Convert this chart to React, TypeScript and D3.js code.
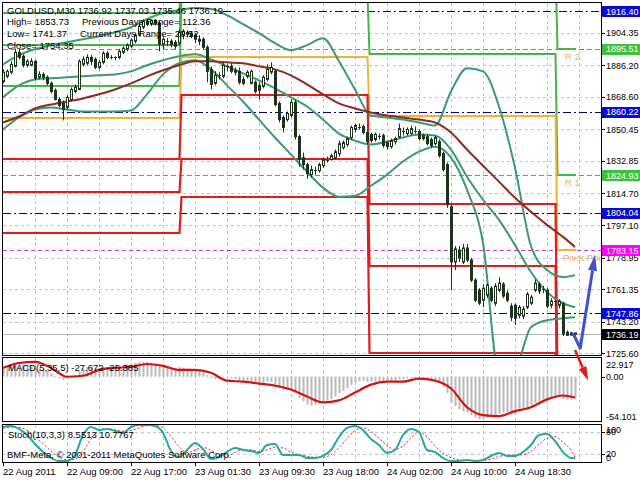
import React from 'react';
import * as d3 from 'd3';

const FONT = '"Liberation Sans", Arial, sans-serif';

// GOLDUSD M30 bars from 22 Aug 2011 00:00 (index = bar number)
const opens = [
  1877.2, 1880.0, 1882.3, 1885.6, 1893.4, 1891.2, 1886.2, 1886.2, 1888.4, 1879.5,
  1881.1, 1879.5, 1876.1, 1872.2, 1867.1, 1864.9, 1862.7, 1867.1, 1871.6, 1872.7,
  1886.7, 1887.3, 1890.6, 1889.5, 1885.0, 1887.8, 1892.9, 1890.6, 1890.1, 1890.6,
  1893.4, 1895.1, 1896.8, 1899.6, 1903.0, 1907.4, 1910.8, 1909.1, 1911.3, 1909.7,
  1897.9, 1899.6, 1899.6, 1899.0, 1898.5, 1903.0, 1904.6, 1904.1, 1903.0, 1900.7,
  1900.7, 1896.2, 1883.9, 1876.1, 1880.6, 1880.0, 1885.6, 1885.6, 1883.4, 1882.8,
  1878.3, 1880.0, 1876.1, 1876.7, 1875.0, 1874.4, 1878.3, 1882.3, 1882.8, 1864.9,
  1857.1, 1855.9, 1858.2, 1865.5, 1846.4, 1834.7, 1830.8, 1825.2, 1828.0, 1827.4,
  1830.2, 1833.6, 1833.6, 1834.7, 1836.9, 1840.3, 1842.0, 1845.9, 1850.4, 1852.0,
  1852.0, 1848.7, 1847.6, 1844.8, 1847.0, 1847.0, 1843.1, 1840.8, 1843.6, 1846.4,
  1849.8, 1848.1, 1848.1, 1849.8, 1849.2, 1847.0, 1846.4, 1844.8, 1842.5, 1843.6,
  1836.9, 1830.8, 1807.3, 1776.5, 1783.2, 1776.5, 1784.3, 1777.6, 1766.4, 1760.8,
  1755.2, 1758.0, 1761.9, 1753.5, 1760.8, 1764.2, 1759.1, 1751.9, 1752.4, 1746.8,
  1746.3, 1751.3, 1753.5, 1760.8, 1764.2, 1761.4, 1760.8, 1752.4, 1754.7, 1752.4,
  1753.5, 1737.3, 1735.8, 1736.92,
];
const highs = [
  1883.9, 1883.9, 1888.4, 1895.1, 1895.1, 1892.3, 1889.5, 1890.1, 1889.0, 1882.8,
  1882.3, 1880.6, 1877.2, 1873.3, 1868.3, 1866.6, 1869.4, 1873.9, 1875.5, 1889.5,
  1891.2, 1892.3, 1891.8, 1890.6, 1889.0, 1894.0, 1894.0, 1891.8, 1891.2, 1895.1,
  1896.8, 1898.5, 1901.3, 1904.1, 1909.7, 1911.9, 1911.9, 1911.5, 1911.93, 1910.8,
  1901.8, 1901.3, 1900.7, 1900.2, 1906.3, 1906.3, 1905.7, 1905.2, 1904.1, 1903.0,
  1901.8, 1897.4, 1885.6, 1882.8, 1882.3, 1887.8, 1886.7, 1887.3, 1885.0, 1885.0,
  1880.0, 1883.4, 1883.9, 1877.8, 1876.7, 1880.6, 1886.7, 1887.8, 1883.9, 1866.0,
  1858.2, 1860.4, 1867.1, 1867.1, 1847.6, 1837.5, 1831.9, 1830.2, 1829.6, 1831.9,
  1834.7, 1835.3, 1836.9, 1839.2, 1844.2, 1844.2, 1846.4, 1852.6, 1853.7, 1853.7,
  1853.2, 1849.8, 1848.7, 1848.7, 1848.1, 1848.1, 1844.2, 1845.3, 1846.4, 1853.73,
  1851.5, 1851.5, 1852.6, 1852.0, 1850.4, 1848.1, 1847.6, 1845.9, 1847.0, 1844.8,
  1838.0, 1831.9, 1808.9, 1785.4, 1785.4, 1786.6, 1786.6, 1778.7, 1767.5, 1761.9,
  1764.2, 1764.7, 1763.1, 1764.7, 1768.1, 1765.3, 1760.8, 1753.5, 1753.5, 1752.4,
  1751.9, 1759.7, 1758.0, 1767.0, 1765.3, 1763.1, 1761.9, 1756.3, 1755.5, 1755.78,
  1754.3, 1738.4, 1737.6, 1737.03,
];
const lows = [
  1876.1, 1878.9, 1881.1, 1885.0, 1889.5, 1885.0, 1885.0, 1885.6, 1877.8, 1878.3,
  1877.8, 1875.0, 1870.5, 1866.6, 1862.7, 1855.41, 1861.5, 1866.0, 1870.5, 1872.2,
  1885.6, 1886.2, 1886.2, 1883.9, 1883.9, 1886.7, 1889.5, 1889.5, 1889.0, 1889.5,
  1892.3, 1894.0, 1895.7, 1898.5, 1902.4, 1906.3, 1908.0, 1908.0, 1908.5, 1894.0,
  1895.1, 1896.8, 1896.2, 1895.1, 1897.4, 1900.7, 1901.8, 1901.3, 1898.5, 1897.4,
  1895.1, 1876.7, 1872.7, 1875.0, 1878.3, 1878.9, 1882.8, 1881.7, 1880.6, 1875.5,
  1875.0, 1878.9, 1875.5, 1870.5, 1867.1, 1873.3, 1877.2, 1881.1, 1863.2, 1854.3,
  1848.7, 1854.8, 1857.1, 1844.8, 1829.6, 1828.0, 1822.9, 1823.5, 1825.2, 1826.3,
  1829.1, 1831.9, 1833.0, 1833.6, 1835.3, 1839.2, 1840.8, 1844.8, 1848.7, 1850.4,
  1847.6, 1842.0, 1843.1, 1843.6, 1844.8, 1840.3, 1839.2, 1839.7, 1842.0, 1845.3,
  1847.0, 1847.0, 1847.0, 1848.1, 1844.2, 1844.2, 1841.4, 1840.3, 1841.4, 1834.7,
  1826.9, 1806.7, 1760.8, 1772.0, 1776.5, 1775.4, 1776.5, 1765.3, 1754.1, 1752.4,
  1751.3, 1756.3, 1754.1, 1751.9, 1759.7, 1756.3, 1754.1, 1743.5, 1741.37, 1745.1,
  1744.6, 1750.2, 1752.4, 1759.7, 1758.6, 1759.1, 1750.7, 1750.7, 1751.9, 1750.7,
  1735.26, 1735.3, 1735.4, 1735.46,
];
const closes = [
  1882.3, 1882.8, 1886.7, 1893.4, 1890.6, 1886.2, 1888.4, 1888.4, 1878.9, 1881.1,
  1879.5, 1876.1, 1871.6, 1867.1, 1863.8, 1861.5, 1868.3, 1872.7, 1873.9, 1888.4,
  1889.5, 1890.6, 1888.4, 1885.0, 1887.8, 1892.9, 1890.6, 1890.3, 1890.6, 1894.0,
  1895.7, 1897.4, 1900.2, 1903.0, 1908.0, 1910.8, 1909.1, 1911.3, 1909.7, 1897.9,
  1900.7, 1899.0, 1897.9, 1896.8, 1904.64, 1905.2, 1903.5, 1902.4, 1900.7, 1899.6,
  1896.2, 1882.8, 1875.5, 1880.6, 1880.0, 1886.2, 1885.3, 1882.8, 1882.3, 1876.7,
  1876.1, 1882.3, 1882.8, 1871.6, 1872.2, 1879.5, 1883.9, 1885.0, 1864.3, 1855.9,
  1851.5, 1859.3, 1865.5, 1846.4, 1833.6, 1830.8, 1825.7, 1828.0, 1827.4, 1830.8,
  1833.6, 1833.3, 1835.8, 1838.0, 1842.5, 1843.1, 1845.3, 1851.5, 1852.6, 1851.8,
  1848.7, 1843.7, 1844.2, 1847.6, 1846.4, 1841.4, 1840.8, 1844.2, 1845.3, 1850.9,
  1849.2, 1850.4, 1850.9, 1849.5, 1845.3, 1845.3, 1842.5, 1841.4, 1845.9, 1835.8,
  1828.0, 1808.4, 1776.5, 1783.8, 1778.7, 1784.3, 1777.6, 1766.4, 1755.2, 1753.5,
  1761.9, 1763.6, 1755.2, 1763.1, 1764.7, 1757.5, 1755.2, 1745.7, 1745.1, 1751.3,
  1750.2, 1758.6, 1756.9, 1764.7, 1760.3, 1760.9, 1751.9, 1754.7, 1754.35, 1754.7,
  1736.4, 1735.6, 1736.9, 1736.19,
];

// previous-day high / low / close feeding each day's pivot set
const prevDayHigh = [1879.4, 1911.93, 1906.3, 1853.73];
const prevDayLow = [1838.6, 1855.41, 1822.9, 1741.37];
const prevDayClose = [1851.6, 1904.64, 1843.7, 1754.35];
const dayStartBars = [0, 45, 92, 139];

// half-range levels (navy dash-dot)
const rangeLevels = [1916.4, 1860.22, 1804.04, 1747.86];
const rangeLevelStartBar = [55, 0, 0, 0];

const priceTicks = [1904.35, 1886.2, 1868.6, 1850.45, 1832.85, 1814.7, 1797.1, 1778.95, 1761.35, 1743.2, 1725.6];

const timeLabels = ['22 Aug 2011', '22 Aug 09:00', '22 Aug 17:00', '23 Aug 01:30', '23 Aug 09:30', '23 Aug 18:00', '24 Aug 02:00', '24 Aug 10:00', '24 Aug 18:30'];
const timeLabelBars = [0, 16, 32, 48, 64, 80, 96, 112, 128];

// band / moving average readings every 4 bars (last one on the final bar)
const bandBars = [...d3.range(0, 141, 4), 143];
const bandUpper = [
  1886.7, 1891.8, 1895.1, 1897.4, 1899.0, 1900.7, 1902.4, 1904.6, 1907.4, 1911.9,
  1915.3, 1916.9, 1918.1, 1917.5, 1914.1, 1909.1, 1904.1, 1898.5, 1894.6, 1897.4,
  1901.3, 1888.4, 1872.7, 1858.2, 1857.1, 1855.9, 1854.3, 1852.6, 1871.6, 1884.5,
  1882.8, 1863.2, 1829.1, 1785.4, 1772.0, 1768.1, 1769.2,
];
const bandMiddle = [
  1868.3, 1875.0, 1878.3, 1878.9, 1879.5, 1880.0, 1880.6, 1881.1, 1882.8, 1886.2,
  1889.0, 1891.2, 1892.3, 1889.5, 1885.6, 1881.7, 1877.8, 1873.3, 1868.3, 1863.2,
  1855.9, 1848.1, 1844.2, 1842.0, 1843.6, 1845.9, 1847.6, 1847.0, 1839.2, 1824.0,
  1811.2, 1800.0, 1786.0, 1770.9, 1759.7, 1753.5, 1751.3,
];
const bandLower = [
  1850.4, 1857.1, 1861.5, 1862.7, 1861.5, 1860.4, 1860.4, 1860.4, 1861.0, 1870.0,
  1881.1, 1887.3, 1889.0, 1883.9, 1875.0, 1866.0, 1855.9, 1845.9, 1836.4, 1826.9,
  1817.9, 1812.9, 1813.4, 1819.0, 1825.2, 1832.5, 1838.0, 1840.8, 1834.7, 1816.8,
  1787.1, 1714.9, 1717.2, 1740.1, 1744.0, 1745.1, 1745.7,
];
const slowMA = [
  1854.3, 1857.6, 1862.1, 1864.3, 1866.0, 1867.7, 1870.0, 1872.7, 1876.1, 1880.0,
  1883.4, 1886.2, 1888.4, 1888.4, 1887.8, 1887.3, 1885.6, 1883.9, 1880.6, 1875.5,
  1870.0, 1864.9, 1862.1, 1859.9, 1858.2, 1857.1, 1855.9, 1854.3, 1848.7, 1839.2,
  1830.2, 1821.3, 1812.3, 1804.5, 1797.2, 1790.5, 1784.9,
];

// MACD(5,35,5)
const macdMain = [
  10, 12, 14, 16, 16, 15, 14, 14, 11, 10,
  9, 7, 4, 1, -2, -4, -2, 0, 2, 7,
  10, 12, 12, 11, 11, 12, 12, 12, 12, 13,
  14, 15, 16, 17, 18, 18, 18, 17, 16, 14,
  14, 13, 12, 11, 12, 11, 10, 9, 8, 7,
  6, 2, -2, -3, -3, -1, -1, -2, -3, -5,
  -6, -6, -6, -8, -9, -8, -6, -6, -9, -13,
  -16, -16, -15, -20, -26, -30, -34, -35, -34, -33,
  -31, -29, -27, -24, -20, -17, -14, -10, -7, -5,
  -5, -6, -6, -6, -6, -7, -7, -6, -5, -3,
  -3, -2, -2, -2, -3, -3, -4, -5, -5, -8,
  -12, -20, -32, -36, -40, -42, -44, -47, -50, -52,
  -51, -50, -49, -47, -45, -44, -43, -44, -45, -43,
  -41, -38, -35, -32, -30, -28, -27, -27, -26, -25,
  -27, -28, -28, -27.672,
];
const macdSignal = [
  10.8, 16.8, 18.1, 10.8, 0, 1.2, 8.4, 10.8, 12.0, 15.6,
  13.2, 8.4, 8.4, 4.8, -4.8, -6.0, -8.4, -10.8, -15.6, -24.1,
  -31.3, -28.9, -19.3, -9.6, -6.0, -6.0, -2.4, -4.8, -14.4, -37.3,
  -46.9, -48.1, -42.1, -37.3, -27.7, -22.9, -25.385,
];
const macdMax = 22.917;
const macdMin = -54.101;

// Stochastic(10,3,3), every 2 bars
const stochBars = [...d3.range(0, 143, 2), 143];
const stochMain = [
  93.5, 96.3, 88.1, 71.7, 47.2, 25.4, 9.0, 0.8, 0.8, 17.2,
  71.7, 93.5, 85.4, 88.1, 82.6, 77.2, 93.5, 99.0, 99.0, 96.3,
  77.2, 28.1, 11.7, 30.8, 49.9, 33.5, 6.3, 11.7, 25.4, 36.3,
  30.8, 28.1, 22.6, 44.4, 47.2, 17.2, 17.2, 17.2, 9.0, 9.0,
  14.5, 30.8, 66.3, 90.8, 96.3, 85.4, 60.8, 44.4, 22.6, 30.8,
  71.7, 88.1, 79.9, 30.8, 25.4, 9.0, 0.8, 0.8, 3.5, 0.8,
  3.5, 14.5, 22.6, 14.5, 14.5, 25.4, 44.4, 71.7, 74.4, 55.4,
  25.4, 9.0, 8.5513,
];
const stochSignal = [
  90, 93, 92, 85, 68, 48, 28, 12, 4, 6,
  28, 60, 84, 89, 86, 82, 84, 91, 97, 98,
  91, 68, 40, 24, 30, 38, 30, 17, 14, 24,
  31, 31, 27, 31, 39, 36, 25, 18, 14, 11,
  11, 18, 37, 62, 84, 91, 81, 63, 43, 32,
  42, 64, 80, 66, 42, 22, 10, 4, 2, 2,
  2, 6, 13, 17, 17, 18, 27, 46, 63, 67,
  52, 30, 10.7767,
];

// forecast arrows drawn on the chart
const upArrowBars = [142.5, 144.3, 148];
const upArrowPrices = [1736.9, 1728.4, 1780.5];
const downArrowBars = [143, 146.3];
const downArrowPrices = [1727.4, 1710.5];

const GRID = '#c4c4c4';
const CANDLE = '#1c331c';
const GREEN = '#46b446';
const ORANGE = '#f2b237';
const RED = '#e01c1c';
const TEAL = '#3a9a70';
const BROWN = '#8e2a22';
const NAVY = '#00007a';

const snap = (v: number) => Math.round(v) + 0.5;

function arrowHead(x0: number, y0: number, x1: number, y1: number, len: number, half: number) {
  const dx = x1 - x0, dy = y1 - y0;
  const L = Math.hypot(dx, dy);
  const ux = dx / L, uy = dy / L;
  const bx = x1 - ux * len, by = y1 - uy * len;
  const nx = -uy, ny = ux;
  return { points: `${x1},${y1} ${bx + nx * half},${by + ny * half} ${bx - nx * half},${by - ny * half}`, bx, by };
}

export default function App() {
  const x = d3.scaleLinear().domain([0, 149.5]).range([3, 601]);
  const y = d3.scaleLinear().domain([1724.65, 1921.46]).range([355, 2]);
  const yMacd = d3.scaleLinear().domain([macdMin, macdMax]).range([421, 358]);
  const yStoch = d3.scaleLinear().domain([0, 100]).range([461.3, 424.6]);

  const pivots = prevDayHigh.map((h, d) => {
    const l = prevDayLow[d];
    const c = prevDayClose[d];
    const p = (h + l + c) / 3;
    return {
      r3: h + 2 * (p - l), r2: p + (h - l), r1: 2 * p - l, p,
      s1: 2 * p - h, s2: p - (h - l), s3: l - 2 * (h - p),
    } as Record<string, number>;
  });
  const today = pivots[3];

  const stepPath = (key: string) => {
    let d = '';
    dayStartBars.forEach((b, i) => {
      const v = Math.round(y(pivots[i][key]));
      const x0 = i === 0 ? 3 : x(b) - 1.5;
      const x1 = i < dayStartBars.length - 1 ? x(dayStartBars[i + 1]) - 3.5 : x(143) + 1;
      d += `${i === 0 ? 'M' : 'L'}${x0},${v}L${x1},${v}`;
    });
    return d;
  };

  const bandLine = (vals: number[]) =>
    d3.line<number>().x((_, i) => x(bandBars[i])).y((v) => y(v)).curve(d3.curveMonotoneX)(vals) || '';
  const macdLine = d3.line<number>().x((_, i) => x(bandBars[i])).y((v) => yMacd(v)).curve(d3.curveMonotoneX)(macdSignal) || '';
  const stochLine = (vals: number[]) =>
    d3.line<number>().x((_, i) => x(stochBars[i])).y((v) => yStoch(v)).curve(d3.curveMonotoneX)(vals) || '';

  const last = closes.length - 1;
  const dayHigh = prevDayHigh[3], dayLow = prevDayLow[3], dayClose = prevDayClose[3];
  const curHigh = d3.max(highs.slice(dayStartBars[3])) as number;
  const curLow = d3.min(lows.slice(dayStartBars[3])) as number;

  const gridBars = d3.range(8, 145, 8);

  const upPts = upArrowBars.map((b, i) => [x(b), y(upArrowPrices[i])]);
  const upHead = arrowHead(upPts[1][0], upPts[1][1], upPts[2][0], upPts[2][1], 16, 4.5);
  const dnPts = downArrowBars.map((b, i) => [x(b), y(downArrowPrices[i])]);
  const dnHead = arrowHead(dnPts[0][0], dnPts[0][1], dnPts[1][0], dnPts[1][1], 14, 4);

  const priceBoxes = [
    ...rangeLevels.map((v) => ({ v, bg: '#0a0ad2' })),
    { v: today.r2, bg: '#3ec23e' },
    { v: today.r1, bg: '#3ec23e' },
    { v: today.p, bg: '#ff00ff' },
    { v: closes[last], bg: '#000000' },
  ];

  const txt = { fontFamily: FONT, fontSize: 9.5 } as const;
  const axisTxt = { fontFamily: FONT, fontSize: 9 } as const;

  return (
    <div style={{ position: 'absolute', left: 0, top: 0 }}>
      <svg width={640} height={480} style={{ display: 'block', background: '#fff' }}>
        <defs>
          <clipPath id="mainClip"><rect x={3} y={3} width={598} height={352} /></clipPath>
          <clipPath id="macdClip"><rect x={3} y={358} width={598} height={63} /></clipPath>
          <clipPath id="stochClip"><rect x={3} y={425} width={598} height={37} /></clipPath>
        </defs>

        {/* main price window */}
        <g clipPath="url(#mainClip)">
          {priceTicks.map((t) => (
            <line key={t} x1={3} x2={601} y1={snap(y(t))} y2={snap(y(t))} stroke={GRID} strokeDasharray="3,3" />
          ))}
          {gridBars.map((b) => (
            <line key={b} x1={snap(x(b))} x2={snap(x(b))} y1={3} y2={355} stroke={GRID} strokeDasharray="3,3" />
          ))}
          <line x1={3} x2={601} y1={snap(y(closes[last]))} y2={snap(y(closes[last]))} stroke="#b4b4b4" />
          {rangeLevels.map((v, i) => (
            <line key={v} x1={x(rangeLevelStartBar[i])} x2={601} y1={snap(y(v))} y2={snap(y(v))} stroke={NAVY} strokeDasharray="8,3,2,3" />
          ))}
          <line x1={3} x2={601} y1={snap(y(today.r2))} y2={snap(y(today.r2))} stroke={GREEN} strokeDasharray="5,3" />
          <line x1={3} x2={601} y1={snap(y(today.r1))} y2={snap(y(today.r1))} stroke={GREEN} strokeDasharray="5,3" />
          <line x1={3} x2={601} y1={snap(y(today.p))} y2={snap(y(today.p))} stroke="#c43cd0" strokeDasharray="4,3" />

          {['r3', 'r2', 'r1'].map((k) => (
            <path key={k} d={stepPath(k)} fill="none" stroke={GREEN} strokeWidth={2} />
          ))}
          <path d={stepPath('p')} fill="none" stroke={ORANGE} strokeWidth={2} />
          {['s1', 's2', 's3'].map((k) => (
            <path key={k} d={stepPath(k)} fill="none" stroke={RED} strokeWidth={2.2} />
          ))}

          <path d={bandLine(bandUpper)} fill="none" stroke={TEAL} strokeWidth={2} />
          <path d={bandLine(bandMiddle)} fill="none" stroke={TEAL} strokeWidth={2} />
          <path d={bandLine(bandLower)} fill="none" stroke={TEAL} strokeWidth={2} />
          <path d={bandLine(slowMA)} fill="none" stroke={BROWN} strokeWidth={2} />

          {closes.map((c, i) => {
            const o = opens[i];
            const cx = x(i);
            const yo = y(o), yc = y(c);
            const top = Math.min(yo, yc), bot = Math.max(yo, yc);
            const bull = c > o;
            return (
              <g key={i}>
                <line x1={cx + 0.5} x2={cx + 0.5} y1={y(highs[i])} y2={y(lows[i])} stroke={CANDLE} />
                {bot - top < 1.2 ? (
                  <line x1={cx - 1} x2={cx + 2} y1={snap(top)} y2={snap(top)} stroke={CANDLE} />
                ) : (
                  <rect x={cx - 0.5} y={top} width={2} height={bot - top} fill={bull ? '#ffffff' : CANDLE} stroke={CANDLE} />
                )}
              </g>
            );
          })}

          <text x={x(140.5)} y={y(today.r2) + 11} fill="#e6b45c" {...txt}>R 2</text>
          <text x={x(140.5)} y={y(today.r1) + 11} fill="#e6b45c" {...txt}>R 1</text>
          <text x={x(140)} y={y(today.p) + 11} fill="#e6b45c" {...txt}>Pivot Point</text>

          <text x={7} y={14} fill="#000" {...txt}>
            {`GOLDUSD,M30  ${opens[last].toFixed(2)} ${highs[last].toFixed(2)} ${lows[last].toFixed(2)} ${closes[last].toFixed(2)}`}
          </text>
          <text x={7} y={25} fill="#000" {...txt}>{`High= ${dayHigh.toFixed(2)}`}</text>
          <text x={82} y={25} fill="#000" {...txt}>{`Previous Days Range= ${(dayHigh - dayLow).toFixed(2)}`}</text>
          <text x={7} y={37} fill="#000" {...txt}>{`Low= ${dayLow.toFixed(2)}`}</text>
          <text x={80} y={37} fill="#000" {...txt}>{`Current Days Range= ${(curHigh - curLow).toFixed(2)}`}</text>
          <text x={7} y={49} fill="#000" {...txt}>{`Close= ${dayClose.toFixed(2)}`}</text>
        </g>

        {/* MACD window */}
        <g clipPath="url(#macdClip)">
          {gridBars.map((b) => (
            <line key={b} x1={snap(x(b))} x2={snap(x(b))} y1={358} y2={421} stroke={GRID} strokeDasharray="3,3" />
          ))}
          {macdMain.map((v, i) => {
            const y0 = yMacd(0), y1 = yMacd(v);
            return <rect key={i} x={x(i) - 0.5} y={Math.min(y0, y1)} width={2} height={Math.abs(y1 - y0)} fill="#b8b8b8" />;
          })}
          <path d={macdLine} fill="none" stroke="#d41212" strokeWidth={2.2} />
          <text x={8} y={371} fill="#000" {...txt}>
            {`MACD(5,35,5) ${macdMain[macdMain.length - 1].toFixed(3)} ${macdSignal[macdSignal.length - 1].toFixed(3)}`}
          </text>
        </g>

        {/* Stochastic window */}
        <g clipPath="url(#stochClip)">
          {gridBars.map((b) => (
            <line key={b} x1={snap(x(b))} x2={snap(x(b))} y1={425} y2={462} stroke={GRID} strokeDasharray="3,3" />
          ))}
          {[80, 20].map((lv) => (
            <line key={lv} x1={3} x2={601} y1={snap(yStoch(lv))} y2={snap(yStoch(lv))} stroke={GRID} strokeDasharray="3,3" />
          ))}
          <path d={stochLine(stochSignal)} fill="none" stroke="#e02424" strokeWidth={1} strokeDasharray="2,2" />
          <path d={stochLine(stochMain)} fill="none" stroke="#22a8a2" strokeWidth={2} />
          <text x={8} y={438} fill="#000" {...txt}>
            {`Stoch(10,3,3) ${stochMain[stochMain.length - 1].toFixed(4)} ${stochSignal[stochSignal.length - 1].toFixed(4)}`}
          </text>
          <text x={7} y={458} fill="#000" {...txt}>BMF-Meta, © 2001-2011 MetaQuotes Software Corp.</text>
        </g>

        {/* window frames */}
        <rect x={2.5} y={2.5} width={599} height={353} fill="none" stroke="#000" />
        <rect x={2.5} y={357.5} width={599} height={64} fill="none" stroke="#000" />
        <rect x={2.5} y={424.5} width={599} height={38} fill="none" stroke="#000" />

        {/* price scale */}
        {priceTicks.map((t) => (
          <g key={t}>
            <line x1={601} x2={605} y1={snap(y(t))} y2={snap(y(t))} stroke="#000" />
            <text x={606} y={y(t) + 3.5} fill="#000" {...axisTxt}>{t.toFixed(2)}</text>
          </g>
        ))}
        {priceBoxes.map((b) => (
          <g key={b.v}>
            <rect x={602} y={Math.round(y(b.v)) - 5} width={38} height={11} fill={b.bg} />
            <text x={606} y={y(b.v) + 3.5} fill="#fff" {...axisTxt}>{b.v.toFixed(2)}</text>
          </g>
        ))}

        {/* MACD scale */}
        <text x={606} y={367.5} fill="#000" {...axisTxt}>{macdMax.toFixed(3)}</text>
        <line x1={601} x2={605} y1={snap(yMacd(0))} y2={snap(yMacd(0))} stroke="#000" />
        <text x={606} y={yMacd(0) + 3.5} fill="#000" {...axisTxt}>0.00</text>
        <text x={606} y={419.5} fill="#000" {...axisTxt}>{macdMin.toFixed(3)}</text>

        {/* Stochastic scale */}
        <text x={606} y={433} fill="#000" {...axisTxt}>100</text>
        <text x={606} y={yStoch(80) + 3.5} fill="#000" {...axisTxt}>80</text>
        <text x={606} y={yStoch(20) + 3.5} fill="#000" {...axisTxt}>20</text>
        <text x={606} y={460.5} fill="#000" {...axisTxt}>0</text>
        {[80, 20].map((lv) => (
          <line key={lv} x1={601} x2={605} y1={snap(yStoch(lv))} y2={snap(yStoch(lv))} stroke="#000" />
        ))}

        {/* time scale */}
        {timeLabelBars.map((b, i) => (
          <g key={b}>
            <line x1={snap(x(b))} x2={snap(x(b))} y1={462} y2={466} stroke="#000" />
            <text x={x(b)} y={475} fill="#000" {...txt}>{timeLabels[i]}</text>
          </g>
        ))}

        {/* forecast arrows */}
        <polyline
          points={`${upPts[0][0]},${upPts[0][1]} ${upPts[1][0]},${upPts[1][1]} ${upHead.bx},${upHead.by}`}
          fill="none" stroke="#4150d0" strokeWidth={3} strokeLinejoin="round"
        />
        <polygon points={upHead.points} fill="#4150d0" />
        <line x1={dnPts[0][0]} y1={dnPts[0][1]} x2={dnHead.bx} y2={dnHead.by} stroke="#e31a1a" strokeWidth={2.5} />
        <polygon points={dnHead.points} fill="#e31a1a" />
      </svg>
    </div>
  );
}
